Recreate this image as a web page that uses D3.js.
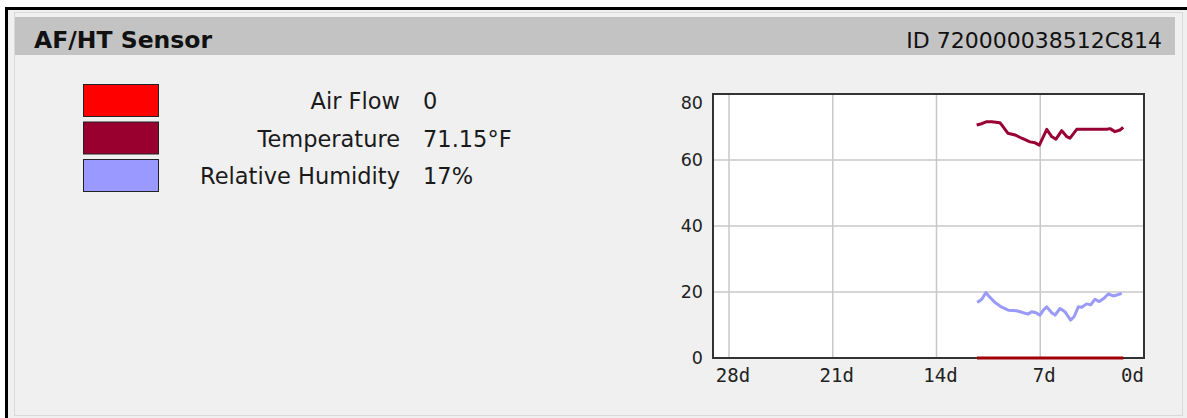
<!DOCTYPE html>
<html>
<head>
<meta charset="utf-8">
<script src="https://cdn.jsdelivr.net/npm/d3@7"></script>
<style>
  body { margin: 0; background: #fff; }
  svg { display: block; }
</style>
</head>
<body>
<div id="panel"></div>
<script>
// sensor readings
var seriesNames = ['Air Flow', 'Temperature', 'Relative Humidity'];
var seriesValues = ['0', '71.15°F', '17%'];
var seriesColors = ['#ff0000', '#990030', '#9999ff'];
var lineColors = ['#a00008', '#990033', '#9a9af8'];

// days ago / value
var airFlowDays = [11.27, 9.0, 7.0, 5.0, 3.0, 1.40];
var airFlowVals = [0, 0, 0, 0, 0, 0];

var tempDays = [11.29, 10.95, 10.61, 10.28, 9.72, 9.51, 9.18, 8.70, 8.25, 7.69, 7.35, 7.06,
                6.56, 6.23, 5.94, 5.55, 5.22, 4.99, 4.54, 4.20, 2.52, 2.29, 1.96, 1.62, 1.40];
var tempVals = [70.6, 71.0, 71.6, 71.6, 71.3, 70.1, 68.1, 67.6, 66.6, 65.5, 65.2, 64.5,
                69.3, 67.1, 66.3, 68.9, 67.1, 66.6, 69.3, 69.3, 69.3, 69.5, 68.6, 69.1, 69.9];

var humDays = [11.25, 10.95, 10.66, 10.44, 10.05, 9.60, 9.16, 8.59, 8.14, 7.81, 7.58, 7.29,
               7.02, 6.79, 6.56, 6.23, 6.00, 5.67, 5.33, 4.95, 4.72, 4.43, 4.20, 3.87, 3.60,
               3.31, 3.02, 2.70, 2.41, 2.07, 1.84, 1.50];
var humVals = [16.8, 17.8, 19.8, 18.6, 16.8, 15.4, 14.5, 14.3, 13.7, 13.3, 14.0, 13.7,
               13.0, 14.5, 15.5, 13.7, 13.0, 15.0, 14.0, 11.5, 12.5, 15.5, 15.4, 16.4, 16.1,
               17.8, 17.1, 18.1, 19.4, 18.8, 19.1, 19.6];

var xTicks = [28, 21, 14, 7, 0];
var yTicks = [0, 20, 40, 60, 80];

var width = 1187, height = 418;

var svg = d3.select('#panel').append('svg')
    .attr('width', width)
    .attr('height', height);

// frame
svg.append('rect').attr('x', 5).attr('y', 7).attr('width', width - 5).attr('height', height - 7)
    .attr('fill', '#000');
svg.append('rect').attr('x', 8).attr('y', 10).attr('width', width - 8).attr('height', height - 10)
    .attr('fill', '#f0f0f0');
svg.append('rect').attr('x', 14.5).attr('y', 12.5).attr('width', 1168).attr('height', 403)
    .attr('fill', '#f0f0f0').attr('stroke', '#d9d9d9');

// header
svg.append('rect').attr('x', 15).attr('y', 17).attr('width', 1160).attr('height', 38)
    .attr('fill', '#c3c3c3');
svg.append('text').attr('x', 34).attr('y', 48)
    .attr('font-family', 'DejaVu Sans').attr('font-weight', 'bold').attr('font-size', 23.5)
    .attr('fill', '#111').text('AF/HT Sensor');
svg.append('text').attr('x', 1162).attr('y', 48).attr('text-anchor', 'end')
    .attr('font-family', 'DejaVu Sans').attr('font-size', 22)
    .attr('fill', '#111').text('ID 720000038512C814');

// legend
var legend = svg.append('g');
var rows = legend.selectAll('g').data(seriesNames).join('g')
    .attr('transform', (d, i) => `translate(0, ${84 + i * 37.5})`);
rows.append('rect').attr('x', 83.5).attr('y', 0.5).attr('width', 75).attr('height', 32)
    .attr('fill', (d, i) => seriesColors[i]).attr('stroke', '#222');
rows.append('text').attr('x', 400).attr('y', 25).attr('text-anchor', 'end')
    .attr('font-family', 'DejaVu Sans').attr('font-size', 22.5).attr('fill', '#1a1a1a')
    .text(d => d);
rows.append('text').attr('x', 423).attr('y', 25)
    .attr('font-family', 'DejaVu Sans').attr('font-size', 22.5).attr('fill', '#1a1a1a')
    .text((d, i) => seriesValues[i]);

// chart
var plot = {left: 713, right: 1144, top: 94, bottom: 358};
var x = d3.scaleLinear().domain([29.08, 0]).range([plot.left, plot.right]);
var y = d3.scaleLinear().domain([0, 80]).range([plot.bottom, plot.top]);

var g = svg.append('g');
g.append('rect').attr('x', plot.left).attr('y', plot.top)
    .attr('width', plot.right - plot.left).attr('height', plot.bottom - plot.top)
    .attr('fill', '#fff');

// grid
g.selectAll('.vgrid').data(xTicks.filter(d => d > 0)).join('line')
    .attr('x1', d => x(d)).attr('x2', d => x(d))
    .attr('y1', plot.top).attr('y2', plot.bottom)
    .attr('stroke', '#c8c8c8').attr('stroke-width', 1.5);
g.selectAll('.hgrid').data(yTicks.filter(d => d > 0 && d < 80)).join('line')
    .attr('x1', plot.left).attr('x2', plot.right)
    .attr('y1', d => y(d)).attr('y2', d => y(d))
    .attr('stroke', '#c8c8c8').attr('stroke-width', 1.5);

// axis labels
g.selectAll('.ylab').data(yTicks).join('text')
    .attr('x', 703).attr('y', d => Math.max(y(d), plot.top + 9) + 6)
    .attr('text-anchor', 'end')
    .attr('font-family', 'DejaVu Sans').attr('font-size', 17.5).attr('fill', '#222')
    .text(d => d);
g.selectAll('.xlab').data(xTicks).join('text')
    .attr('x', d => d === 0 ? plot.right : x(d) + 4)
    .attr('y', 382)
    .attr('text-anchor', d => d === 0 ? 'end' : 'middle')
    .attr('font-family', 'DejaVu Sans Mono').attr('font-size', 19).attr('fill', '#222')
    .text(d => d + 'd');

// plot border
g.append('rect').attr('x', plot.left).attr('y', plot.top)
    .attr('width', plot.right - plot.left).attr('height', plot.bottom - plot.top)
    .attr('fill', 'none').attr('stroke', '#333').attr('stroke-width', 2);

// lines
var line = d3.line().x(d => x(d[0])).y(d => y(d[1]));
var series = [
  d3.zip(humDays, humVals),
  d3.zip(tempDays, tempVals),
  d3.zip(airFlowDays, airFlowVals)
];
var seriesLine = [lineColors[2], lineColors[1], lineColors[0]];
g.selectAll('.series').data(series).join('path')
    .attr('d', line)
    .attr('fill', 'none')
    .attr('stroke', (d, i) => seriesLine[i])
    .attr('stroke-width', 3)
    .attr('stroke-linejoin', 'round');
</script>
</body>
</html>
